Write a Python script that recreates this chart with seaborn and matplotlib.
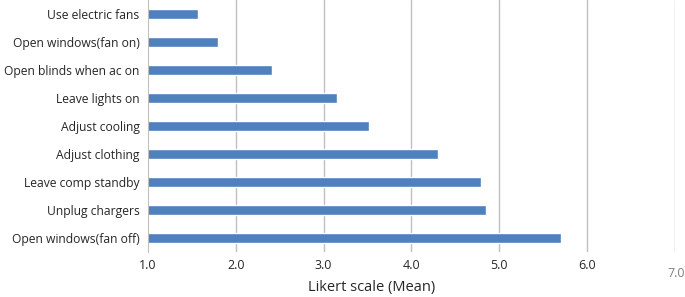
import pandas as pd
import matplotlib.pyplot as plt
import seaborn as sns

# Survey behaviours and their mean Likert score
behaviours = ['Use electric fans', 'Open windows(fan on)', 'Open blinds when ac on',
              'Leave lights on', 'Adjust cooling', 'Adjust clothing',
              'Leave comp standby', 'Unplug chargers', 'Open windows(fan off)']
mean_scores = [1.57, 1.80, 2.41, 3.15, 3.52, 4.30, 4.79, 4.85, 5.70]
tick_values = [1.0, 2.0, 3.0, 4.0, 5.0, 6.0]

df = pd.DataFrame({'Behaviour': behaviours, 'Mean': mean_scores})

sns.set_style('white')
plt.rcParams['font.family'] = ['Open Sans', 'DejaVu Sans']

fig = plt.figure(figsize=(6.85, 2.97), dpi=100)
ax = fig.add_axes([0.216, 0.152, 0.769, 0.848])

# grid lines first so bars sit on top
for v in tick_values[1:] + [7.0]:
    ax.axvline(v, color='#BFBFBF', lw=1.0, zorder=0)

sns.barplot(data=df, x='Mean', y='Behaviour', order=behaviours, color='#4F81BD',
            width=0.38, saturation=1, ax=ax, zorder=2)

ax.set_xlim(1.0, 7.0)
ax.set_ylim(8.5, -0.5)
ax.set_xticks(tick_values)
ax.set_xticklabels([f'{v:.1f}' for v in tick_values], fontsize=9.0, color='#262626')
ax.tick_params(axis='x', length=0, pad=5)
ax.tick_params(axis='y', length=0, pad=6, labelsize=8.7, labelcolor='#262626')
ax.set_ylabel('')
ax.set_xlabel('')

for side in ['top', 'right', 'bottom']:
    ax.spines[side].set_visible(False)
ax.spines['left'].set_color('#BFBFBF')

# the last tick label sits a little apart in grey
ax.text(7.02, -0.06, '7.0', transform=ax.get_xaxis_transform(), ha='center', va='top',
        fontsize=9.0, color='#7F7F7F')

fig.text(372 / 685, 1 - 288 / 297, 'Likert scale (Mean)', ha='center', va='center',
         fontsize=10.5, color='#262626')

plt.savefig('out.png', dpi=100)
plt.close()
